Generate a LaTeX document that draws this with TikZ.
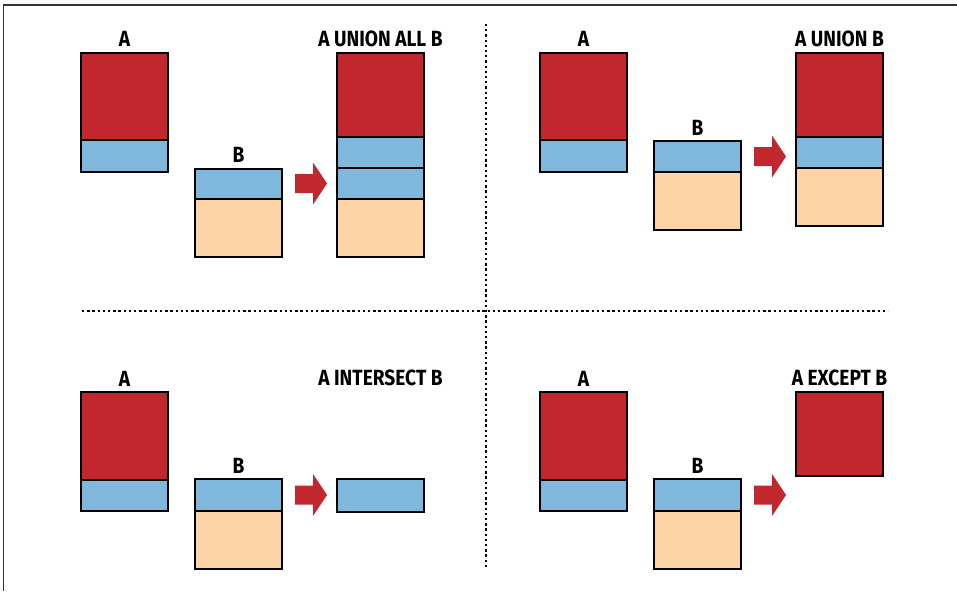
\documentclass[tikz,border=0pt]{standalone}
\usepackage{fontspec}
\newfontfamily\lblfont[FakeStretch=0.87]{Fira Sans}
\definecolor{cred}{RGB}{193,39,45}
\definecolor{cblue}{RGB}{128,183,220}
\definecolor{cpeach}{RGB}{253,212,165}
\newcommand\fatarr[2]{%
  \fill[arr] (#1,#2-9.5) -- (#1+18,#2-9.5) -- (#1+18,#2-21) -- (#1+32,#2)
    -- (#1+18,#2+21) -- (#1+18,#2+9.5) -- (#1,#2+9.5) -- cycle;}
\begin{document}
\begin{tikzpicture}[x=1pt,y=-1pt,
  seg/.style={draw=black,line width=2pt},
  rseg/.style={seg,fill=cred},
  bseg/.style={seg,fill=cblue},
  pseg/.style={seg,fill=cpeach},
  lbl/.style={font=\lblfont\bfseries\fontsize{22}{22}\selectfont, anchor=base, inner sep=0pt},
  arr/.style={fill=cred},
  sepline/.style={line width=2pt, dash pattern=on 2.3pt off 2.9pt},
  framel/.style={draw=black!80, line width=1.5pt}]
\useasboundingbox (0,0) rectangle (957,591);
\fill[white] (0,0) rectangle (957,591);
% frame
\draw[framel] (3.5,591) -- (3.5,5) -- (957,5);
% separators
\draw[sepline] (486,24) -- (486,569);
\draw[sepline] (82,310.7) -- (888,310.7);

% ---------- top-left: UNION ALL
\node[lbl] (tlA) at (124.5,47) {A};
\path[rseg] (81,53.3) rectangle (168,140);
\path[bseg] (81,140) rectangle (168,172);
\node[lbl] (tlB) at (238.5,162) {B};
\path[bseg] (195,169) rectangle (282,199.3);
\path[pseg] (195,199.3) rectangle (282,257.3);
\fatarr{295}{183.5}
\node[lbl] (tlR) at (380.5,47) {A UNION ALL B};
\path[rseg] (337,53.3) rectangle (424,136.7);
\path[bseg] (337,136.7) rectangle (424,167.7);
\path[bseg] (337,167.7) rectangle (424,199.3);
\path[pseg] (337,199.3) rectangle (424,257.3);

% ---------- top-right: UNION
\node[lbl] (trA) at (583.5,47) {A};
\path[rseg] (540,53.3) rectangle (627,140);
\path[bseg] (540,140) rectangle (627,172);
\node[lbl] (trB) at (697.5,135) {B};
\path[bseg] (654,141.3) rectangle (741,172.3);
\path[pseg] (654,172.3) rectangle (741,230);
\fatarr{754}{156.5}
\node[lbl] (trR) at (839.5,47) {A UNION B};
\path[rseg] (796,53.3) rectangle (883,136.7);
\path[bseg] (796,136.7) rectangle (883,167.7);
\path[pseg] (796,167.7) rectangle (883,225.7);

% ---------- bottom-left: INTERSECT
\node[lbl] (blA) at (124.5,386) {A};
\path[rseg] (81,392.3) rectangle (168,479.7);
\path[bseg] (81,479.7) rectangle (168,510.7);
\node[lbl] (blB) at (238.5,473) {B};
\path[bseg] (195,479.3) rectangle (282,510.7);
\path[pseg] (195,510.7) rectangle (282,569.3);
\fatarr{295}{495}
\node[lbl] (blR) at (380.5,385) {A INTERSECT B};
\path[bseg] (337,479.3) rectangle (424,512.3);

% ---------- bottom-right: EXCEPT
\node[lbl] (brA) at (583.5,386) {A};
\path[rseg] (540,392.3) rectangle (627,479.7);
\path[bseg] (540,479.7) rectangle (627,510.7);
\node[lbl] (brB) at (697.5,473) {B};
\path[bseg] (654,479.3) rectangle (741,510.7);
\path[pseg] (654,510.7) rectangle (741,569.3);
\fatarr{754}{495}
\node[lbl] (brR) at (839.5,385) {A EXCEPT B};
\path[rseg] (796,391.7) rectangle (883,475.7);
\end{tikzpicture}
\end{document}
